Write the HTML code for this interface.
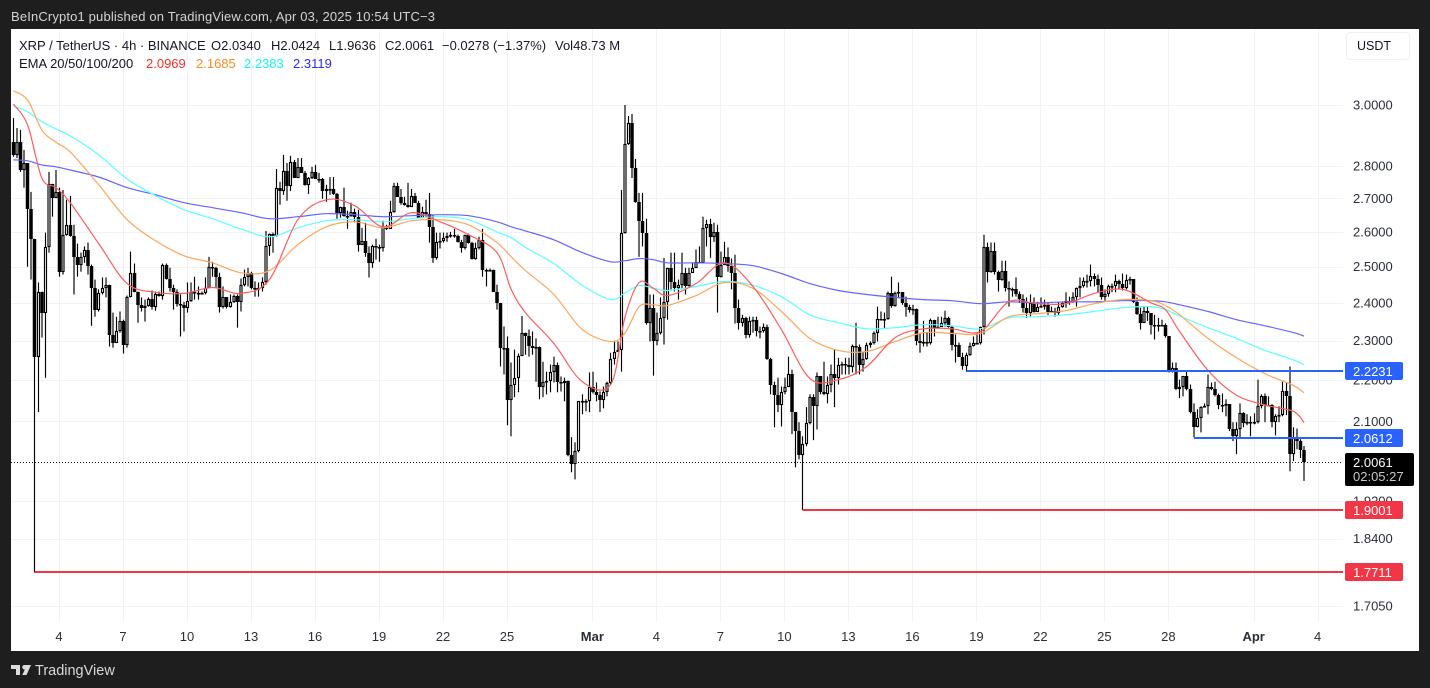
<!DOCTYPE html>
<html lang="en">
<head>
<meta charset="utf-8">
<title>XRP / TetherUS 4h chart</title>
<style>
html,body{margin:0;padding:0;background:#1e1e1e;width:1430px;height:688px;overflow:hidden}
svg{display:block;font-family:"Liberation Sans",Arial,sans-serif}
</style>
</head>
<body>
<svg id="chart" width="1430" height="688" viewBox="0 0 1430 688" xmlns="http://www.w3.org/2000/svg">
  <rect x="0" y="0" width="1430" height="688" fill="#1e1e1e"/>
  <text x="11" y="21" font-size="13" fill="#d4d4d4" textLength="424" lengthAdjust="spacing">BeInCrypto1 published on TradingView.com, Apr 03, 2025 10:54 UTC−3</text>
  <rect x="11" y="29" width="1408" height="622" fill="#ffffff"/>
  <g id="grid"></g>
  <g id="candles"></g>
  <g id="emas"></g>
  <g id="levels"></g>
  <g id="axis"></g>
  <g id="tags"></g>

  <g>
    <rect x="1345" y="453" width="69" height="33" rx="2" fill="#000000"/>
    <text id="lastPriceText" x="1353" y="467" font-size="13" fill="#ffffff"></text>
    <text x="1353" y="481" font-size="13" fill="#c8c8c8">02:05:27</text>
  </g>

  <g font-size="13" fill="#131722">
    <text x="19" y="50">XRP / TetherUS · 4h · BINANCE</text>
    <text x="211" y="50">O2.0340</text>
    <text x="271" y="50">H2.0424</text>
    <text x="329" y="50">L1.9636</text>
    <text x="385" y="50">C2.0061</text>
    <text x="442" y="50">−0.0278 (−1.37%)</text>
    <text x="555" y="50">Vol48.73 M</text>
    <text x="19" y="68">EMA 20/50/100/200</text>
    <text x="146" y="68" fill="#ff2a2a">2.0969</text>
    <text x="196" y="68" fill="#ff8a1e">2.1685</text>
    <text x="244" y="68" fill="#14f5f5">2.2383</text>
    <text x="293" y="68" fill="#2a2aff">2.3119</text>
  </g>

  <g>
    <rect x="1346.5" y="32.5" width="63" height="27" rx="4" fill="#ffffff" stroke="#f0f0f0"/>
    <text x="1357" y="50" font-size="12.5" fill="#131722">USDT</text>
  </g>

  <g>
    <path d="M11 665h9v10h-4v-6h-5zM24 665h7l-4.5 10h-4.2l2.6-5.6a2 2 0 1 1-0.9-4.4z" fill="#dcdcdc"/>
    <text x="35" y="675" font-size="14.5" fill="#d8d8d8">TradingView</text>
  </g>
</svg>

<script>
const closes = [
2.836,2.878,2.788,2.811,2.669,2.580,2.259,2.431,2.374,2.555,
2.745,2.702,2.720,2.486,2.592,2.621,2.589,2.528,2.506,2.528,
2.549,2.503,2.440,2.382,2.426,2.440,2.448,2.316,2.295,2.324,
2.352,2.290,2.417,2.481,2.431,2.395,2.385,2.393,2.412,2.390,
2.423,2.420,2.506,2.467,2.440,2.429,2.398,2.395,2.385,2.406,
2.429,2.426,2.427,2.426,2.442,2.500,2.497,2.470,2.390,2.415,
2.390,2.403,2.420,2.403,2.448,2.472,2.483,2.442,2.440,2.442,
2.456,2.560,2.595,2.589,2.733,2.723,2.785,2.739,2.814,2.763,
2.798,2.779,2.742,2.763,2.782,2.760,2.759,2.723,2.729,2.730,
2.714,2.657,2.675,2.648,2.647,2.660,2.645,2.563,2.574,2.540,
2.511,2.560,2.555,2.554,2.615,2.609,2.660,2.739,2.705,2.687,
2.681,2.675,2.708,2.687,2.642,2.660,2.654,2.615,2.525,2.571,
2.574,2.583,2.589,2.590,2.589,2.571,2.552,2.592,2.569,2.523,
2.552,2.577,2.492,2.491,2.492,2.431,2.400,2.280,2.282,2.150,
2.189,2.206,2.261,2.321,2.311,2.285,2.282,2.283,2.182,2.196,
2.197,2.221,2.239,2.196,2.192,2.197,2.022,2.001,2.031,2.148,
2.149,2.148,2.184,2.170,2.163,2.150,2.170,2.192,2.254,2.272,
2.277,2.598,2.871,2.940,2.794,2.690,2.633,2.598,2.347,2.387,
2.298,2.321,2.360,2.403,2.495,2.456,2.442,2.448,2.481,2.447,
2.482,2.497,2.512,2.511,2.612,2.624,2.586,2.600,2.472,2.506,
2.528,2.503,2.483,2.387,2.345,2.360,2.316,2.352,2.355,2.326,
2.324,2.337,2.254,2.187,2.163,2.139,2.170,2.184,2.214,2.122,
2.077,2.022,2.047,2.095,2.158,2.136,2.209,2.170,2.167,2.189,
2.214,2.204,2.239,2.241,2.238,2.234,2.285,2.284,2.239,2.254,
2.290,2.293,2.319,2.358,2.357,2.358,2.426,2.393,2.426,2.429,
2.400,2.390,2.382,2.384,2.298,2.295,2.296,2.295,2.355,2.334,
2.337,2.345,2.360,2.337,2.288,2.290,2.259,2.236,2.264,2.285,
2.295,2.293,2.337,2.557,2.486,2.546,2.486,2.464,2.489,2.440,
2.439,2.437,2.423,2.412,2.387,2.374,2.400,2.376,2.390,2.393,
2.395,2.376,2.379,2.374,2.390,2.400,2.406,2.403,2.415,2.442,
2.445,2.459,2.461,2.475,2.467,2.450,2.415,2.423,2.445,2.446,
2.459,2.453,2.440,2.464,2.467,2.403,2.371,2.347,2.379,2.374,
2.342,2.341,2.342,2.341,2.311,2.219,2.229,2.179,2.182,2.209,
2.179,2.122,2.086,2.107,2.134,2.136,2.182,2.179,2.163,2.139,
2.138,2.141,2.081,2.065,2.081,2.119,2.095,2.098,2.097,2.098,
2.136,2.160,2.139,2.138,2.098,2.112,2.115,2.172,2.160,2.024,
2.063,2.054,2.033,2.0061];
const firstOpen = 2.878;
const highs = [
2.956,2.923,2.917,2.852,2.810,2.720,2.580,2.456,2.431,2.598,
2.782,2.745,2.788,2.733,2.726,2.696,2.708,2.621,2.566,2.540,
2.558,2.569,2.506,2.464,2.437,2.470,2.470,2.450,2.374,2.363,
2.377,2.355,2.420,2.543,2.509,2.431,2.415,2.409,2.415,2.434,
2.431,2.431,2.509,2.509,2.497,2.450,2.437,2.423,2.403,2.456,
2.456,2.472,2.445,2.431,2.470,2.528,2.514,2.500,2.483,2.445,
2.415,2.423,2.423,2.423,2.467,2.492,2.497,2.486,2.459,2.456,
2.470,2.603,2.595,2.598,2.791,2.751,2.836,2.810,2.833,2.820,
2.826,2.826,2.785,2.766,2.798,2.804,2.779,2.763,2.742,2.766,
2.766,2.717,2.675,2.733,2.663,2.687,2.669,2.666,2.612,2.627,
2.558,2.563,2.580,2.563,2.633,2.621,2.693,2.748,2.748,2.729,
2.705,2.748,2.729,2.717,2.693,2.675,2.696,2.717,2.651,2.598,
2.598,2.598,2.598,2.600,2.609,2.592,2.577,2.592,2.595,2.571,
2.569,2.586,2.609,2.495,2.495,2.492,2.450,2.400,2.337,2.311,
2.244,2.277,2.267,2.365,2.321,2.329,2.324,2.306,2.285,2.246,
2.221,2.239,2.259,2.244,2.209,2.206,2.199,2.063,2.051,2.148,
2.165,2.153,2.219,2.221,2.194,2.172,2.184,2.196,2.269,2.300,
2.298,2.726,3.000,2.963,2.970,2.823,2.717,2.717,2.639,2.423,
2.423,2.374,2.415,2.525,2.497,2.540,2.540,2.464,2.540,2.497,
2.497,2.511,2.549,2.558,2.645,2.636,2.639,2.627,2.621,2.543,
2.571,2.555,2.523,2.534,2.409,2.368,2.363,2.363,2.363,2.363,
2.337,2.345,2.342,2.256,2.196,2.206,2.184,2.206,2.259,2.226,
2.122,2.098,2.065,2.134,2.165,2.165,2.219,2.209,2.246,2.209,
2.239,2.277,2.256,2.246,2.256,2.256,2.290,2.347,2.290,2.272,
2.295,2.298,2.324,2.390,2.377,2.374,2.431,2.472,2.431,2.456,
2.429,2.417,2.395,2.395,2.385,2.321,2.352,2.321,2.358,2.355,
2.363,2.363,2.379,2.363,2.339,2.316,2.295,2.269,2.269,2.295,
2.311,2.321,2.337,2.592,2.569,2.569,2.569,2.489,2.517,2.517,
2.459,2.442,2.470,2.431,2.423,2.415,2.423,2.415,2.403,2.415,
2.409,2.400,2.390,2.387,2.403,2.403,2.429,2.417,2.429,2.442,
2.470,2.470,2.478,2.506,2.481,2.478,2.470,2.437,2.450,2.453,
2.478,2.464,2.481,2.478,2.472,2.459,2.415,2.387,2.390,2.390,
2.365,2.368,2.360,2.355,2.345,2.311,2.244,2.244,2.201,2.209,
2.224,2.189,2.143,2.129,2.136,2.143,2.214,2.194,2.196,2.167,
2.167,2.153,2.141,2.098,2.098,2.143,2.122,2.117,2.112,2.119,
2.201,2.165,2.167,2.160,2.141,2.117,2.136,2.196,2.194,2.234,
2.086,2.083,2.058,2.0424];
const lows = [
2.830,2.826,2.782,2.733,2.500,2.464,1.7711,2.122,2.308,2.206,
2.540,2.645,2.702,2.472,2.478,2.589,2.586,2.423,2.472,2.486,
2.511,2.478,2.339,2.363,2.377,2.423,2.415,2.285,2.282,2.295,
2.321,2.267,2.282,2.415,2.429,2.347,2.377,2.350,2.390,2.382,
2.379,2.417,2.409,2.464,2.431,2.382,2.390,2.311,2.324,2.374,
2.403,2.409,2.409,2.423,2.423,2.440,2.472,2.440,2.374,2.385,
2.385,2.387,2.400,2.334,2.377,2.445,2.445,2.437,2.417,2.417,
2.431,2.450,2.531,2.540,2.586,2.681,2.711,2.693,2.723,2.763,
2.763,2.779,2.739,2.714,2.760,2.760,2.748,2.699,2.690,2.711,
2.711,2.639,2.642,2.645,2.609,2.645,2.630,2.543,2.563,2.528,
2.470,2.497,2.520,2.514,2.543,2.606,2.609,2.657,2.705,2.681,
2.678,2.672,2.675,2.687,2.642,2.642,2.645,2.569,2.511,2.520,
2.552,2.569,2.571,2.583,2.583,2.569,2.540,2.549,2.566,2.520,
2.520,2.549,2.472,2.445,2.489,2.431,2.382,2.234,2.214,2.091,
2.065,2.158,2.170,2.261,2.264,2.259,2.264,2.196,2.153,2.158,
2.165,2.170,2.194,2.170,2.172,2.148,2.019,1.983,1.967,2.028,
2.117,2.124,2.122,2.167,2.148,2.122,2.131,2.160,2.189,2.239,
2.272,2.221,2.595,2.868,2.763,2.687,2.528,2.558,2.342,2.298,
2.211,2.288,2.316,2.290,2.355,2.437,2.431,2.409,2.437,2.423,
2.445,2.489,2.497,2.511,2.511,2.558,2.525,2.571,2.374,2.470,
2.506,2.486,2.437,2.345,2.329,2.337,2.306,2.308,2.321,2.311,
2.306,2.321,2.251,2.165,2.086,2.122,2.088,2.165,2.184,2.070,
1.994,2.012,1.9001,2.042,2.093,2.056,2.081,2.165,2.163,2.143,
2.170,2.134,2.189,2.214,2.214,2.214,2.219,2.214,2.214,2.221,
2.251,2.282,2.290,2.298,2.355,2.331,2.355,2.387,2.390,2.415,
2.395,2.363,2.374,2.368,2.288,2.269,2.285,2.285,2.290,2.311,
2.334,2.337,2.337,2.334,2.275,2.244,2.259,2.226,2.221,2.261,
2.285,2.290,2.290,2.316,2.456,2.483,2.478,2.431,2.461,2.431,
2.390,2.417,2.417,2.400,2.374,2.360,2.363,2.374,2.377,2.387,
2.382,2.368,2.374,2.363,2.368,2.387,2.387,2.395,2.400,2.390,
2.415,2.442,2.442,2.445,2.445,2.429,2.409,2.406,2.417,2.429,
2.429,2.437,2.434,2.437,2.450,2.400,2.368,2.329,2.347,2.352,
2.316,2.303,2.324,2.337,2.308,2.219,2.219,2.175,2.156,2.160,
2.175,2.119,2.063,2.086,2.074,2.134,2.117,2.175,2.160,2.129,
2.122,2.112,2.077,2.054,2.024,2.063,2.086,2.091,2.065,2.093,
2.095,2.131,2.098,2.136,2.086,2.067,2.098,2.112,2.115,1.985,
2.008,2.035,2.015,1.9636];

const emaCandles = [0,4,8,12,16,24,32,40,48,56,64,72,80,88,96,104,112,120,128,136,140,144,152,160,168,172,176,180,184,192,200,208,216,224,232,240,248,256,264,272,280,288,296,304,312,320,324,328,336,344,352,360,363];
const ema20 = [3.003,2.933,2.763,2.733,2.687,2.566,2.453,2.429,2.426,2.442,2.426,2.464,2.636,2.696,2.678,2.615,2.657,2.630,2.592,2.540,2.437,2.374,2.293,2.196,2.189,2.362,2.456,2.440,2.420,2.453,2.511,2.445,2.329,2.204,2.201,2.234,2.308,2.331,2.331,2.324,2.403,2.398,2.398,2.426,2.437,2.400,2.382,2.324,2.224,2.163,2.139,2.124,2.0969];
const ema50 = [3.048,3.017,2.917,2.876,2.845,2.742,2.636,2.574,2.531,2.511,2.483,2.489,2.563,2.615,2.630,2.612,2.633,2.636,2.621,2.569,2.528,2.489,2.423,2.329,2.298,2.320,2.390,2.395,2.393,2.420,2.456,2.440,2.377,2.306,2.275,2.272,2.298,2.321,2.319,2.319,2.363,2.371,2.379,2.398,2.409,2.406,2.393,2.368,2.306,2.256,2.216,2.187,2.1685];
const ema100 = [2.997,2.977,2.944,2.920,2.897,2.836,2.760,2.708,2.666,2.639,2.609,2.586,2.612,2.633,2.636,2.630,2.639,2.645,2.636,2.600,2.583,2.555,2.509,2.448,2.409,2.427,2.448,2.440,2.434,2.445,2.459,2.448,2.417,2.368,2.347,2.331,2.334,2.342,2.339,2.331,2.360,2.363,2.368,2.377,2.387,2.390,2.382,2.365,2.334,2.306,2.275,2.251,2.2383];
const ema200 = [2.820,2.817,2.804,2.798,2.788,2.766,2.733,2.711,2.687,2.672,2.657,2.639,2.645,2.654,2.651,2.645,2.648,2.651,2.648,2.630,2.615,2.603,2.577,2.540,2.514,2.517,2.523,2.520,2.511,2.511,2.509,2.503,2.481,2.453,2.434,2.423,2.415,2.409,2.406,2.398,2.403,2.400,2.403,2.403,2.406,2.406,2.403,2.395,2.377,2.355,2.339,2.321,2.3119];

const priceTicks = [3.0,2.8,2.7,2.6,2.5,2.4,2.3,2.2,2.1,1.92,1.84,1.705];
const dayTicks = [0,3,6,9,12,15,18,21,25,28,31,34,37,40,43,46,49,52,56,59];
const dayLabels = ["4","7","10","13","16","19","22","25","Mar","4","7","10","13","16","19","22","25","28","Apr","4"];

const levelPrices = [2.2231,2.0612,1.9001,1.7711];
const levelStartCandle = [268,332,222,6];
const levelKinds = ["support-high","support-mid","support-low","support-bottom"];
const lastPrice = 2.0061;

/* scales */
const topY = 105, topPrice = 3, pxPerLog = 887;
function yOf(price){ return topY + pxPerLog * Math.log(topPrice / price); }
const day0X = 59, pxPerDay = 64 / 3, candlesPerDay = 6, firstCandleDay = -2.1375;
function xOfDay(day){ return day0X + day * pxPerDay; }
function xOfCandle(i){ return xOfDay(firstCandleDay + i / candlesPerDay); }

const NS = "http://www.w3.org/2000/svg";
const paneLeft = 11, paneRight = 1343, paneBottom = 622, paneTop = 29;
function mk(tag, attrs, parent){
  const el = document.createElementNS(NS, tag);
  for (const k in attrs) el.setAttribute(k, attrs[k]);
  parent.appendChild(el);
  return el;
}

/* grid and axes */
const grid = document.getElementById("grid");
const axis = document.getElementById("axis");
priceTicks.forEach(function(p){
  const y = Math.round(yOf(p)) + 0.5;
  const line = mk("line", {x1: paneLeft, x2: paneRight, y1: y, y2: y, stroke: "#f1f2f4", "stroke-width": 1}, grid);
  
  
  const label = mk("text", {x: 1353, y: yOf(p) + 4.5, "font-size": 13, fill: "#2a2e39"}, axis);
  
  
  label.textContent = p.toFixed(4);
});
dayTicks.forEach(function(d, i){
  const x = Math.round(xOfDay(d)) + 0.5;
  const line = mk("line", {x1: x, x2: x, y1: paneTop, y2: paneBottom, stroke: "#f1f2f4", "stroke-width": 1}, grid);
  
  
  const isMonth = isNaN(Number(dayLabels[i]));
  const label = mk("text", {x: xOfDay(d), y: 641, "font-size": 13, fill: "#2a2e39", "text-anchor": "middle", "font-weight": isMonth ? "bold" : "normal"}, axis);
  
  
  label.textContent = dayLabels[i];
});

/* last price dotted line */
const lastLine = mk("line", {x1: paneLeft, x2: paneRight, y1: Math.round(yOf(lastPrice)) + 0.5, y2: Math.round(yOf(lastPrice)) + 0.5, stroke: "#111", "stroke-width": 1, "stroke-dasharray": "1 2"}, grid);


document.getElementById("lastPriceText").textContent = lastPrice.toFixed(4);

/* candles: x snapped to a half-pixel grid so about half render crisp black and half soft gray, as in the reference */
const candleGroup = document.getElementById("candles");
closes.forEach(function(close, i){
  const open = i === 0 ? firstOpen : closes[i - 1];
  const x = Math.round(xOfCandle(i) * 2) / 2;
  const up = close >= open;
  const g = mk("g", {}, candleGroup);
  
  
  mk("line", {x1: x, x2: x, y1: yOf(highs[i]), y2: yOf(lows[i]), stroke: "#000", "stroke-width": 1.15}, g);
  const yTop = Math.round(yOf(Math.max(open, close)));
  const yBot = Math.round(yOf(Math.min(open, close)));
  if (up) {
    mk("rect", {x: x - 1, y: yTop + 0.5, width: 2, height: Math.max(yBot - yTop - 1, 0.5), fill: "#fff", stroke: "#000", "stroke-width": 1.15}, g);
  } else {
    mk("rect", {x: x - 1.75, y: yTop, width: 3.5, height: Math.max(yBot - yTop, 1.5), fill: "#000"}, g);
  }
});

/* EMAs */
const emaGroup = document.getElementById("emas");
function drawEma(values, color, name){
  const pts = values.map(function(v, i){ return [xOfCandle(emaCandles[i]), yOf(v)]; });
  let d = "M" + pts[0][0].toFixed(1) + " " + pts[0][1].toFixed(1);
  for (let i = 0; i < pts.length - 1; i++) {
    const a = pts[Math.max(i - 1, 0)], b = pts[i], c = pts[i + 1], e = pts[Math.min(i + 2, pts.length - 1)];
    d += "C" + (b[0] + (c[0] - a[0]) / 6).toFixed(1) + " " + (b[1] + (c[1] - a[1]) / 6).toFixed(1) + " " +
         (c[0] - (e[0] - b[0]) / 6).toFixed(1) + " " + (c[1] - (e[1] - b[1]) / 6).toFixed(1) + " " +
         c[0].toFixed(1) + " " + c[1].toFixed(1);
  }
  const line = mk("path", {d: d, fill: "none", stroke: color, "stroke-width": 1.2, "stroke-linejoin": "round"}, emaGroup);
  
  
}
drawEma(ema200, "#6464ff", "ema-200-line");
drawEma(ema100, "#5cffff", "ema-100-line");
drawEma(ema50, "#ffa55c", "ema-50-line");
drawEma(ema20, "#ff5c5c", "ema-20-line");

/* levels and tags */
const levelGroup = document.getElementById("levels");
const tagGroup = document.getElementById("tags");
levelPrices.forEach(function(p, i){
  const y = yOf(p);
  const yLine = Math.round(y);
  const color = i < 2 ? "#2962ff" : "#f23645";
  const line = mk("line", {x1: xOfCandle(levelStartCandle[i]), x2: paneRight, y1: yLine, y2: yLine, stroke: color, "stroke-width": 2}, levelGroup);
  
  
  const box = mk("rect", {x: 1345, y: yLine - 9, width: 58, height: 18, rx: 2, fill: color}, tagGroup);
  
  
  const txt = mk("text", {x: 1353, y: yLine + 5, "font-size": 13, fill: "#ffffff"}, tagGroup);
  
  
  txt.textContent = p.toFixed(4);
});
</script>
</body>
</html>
